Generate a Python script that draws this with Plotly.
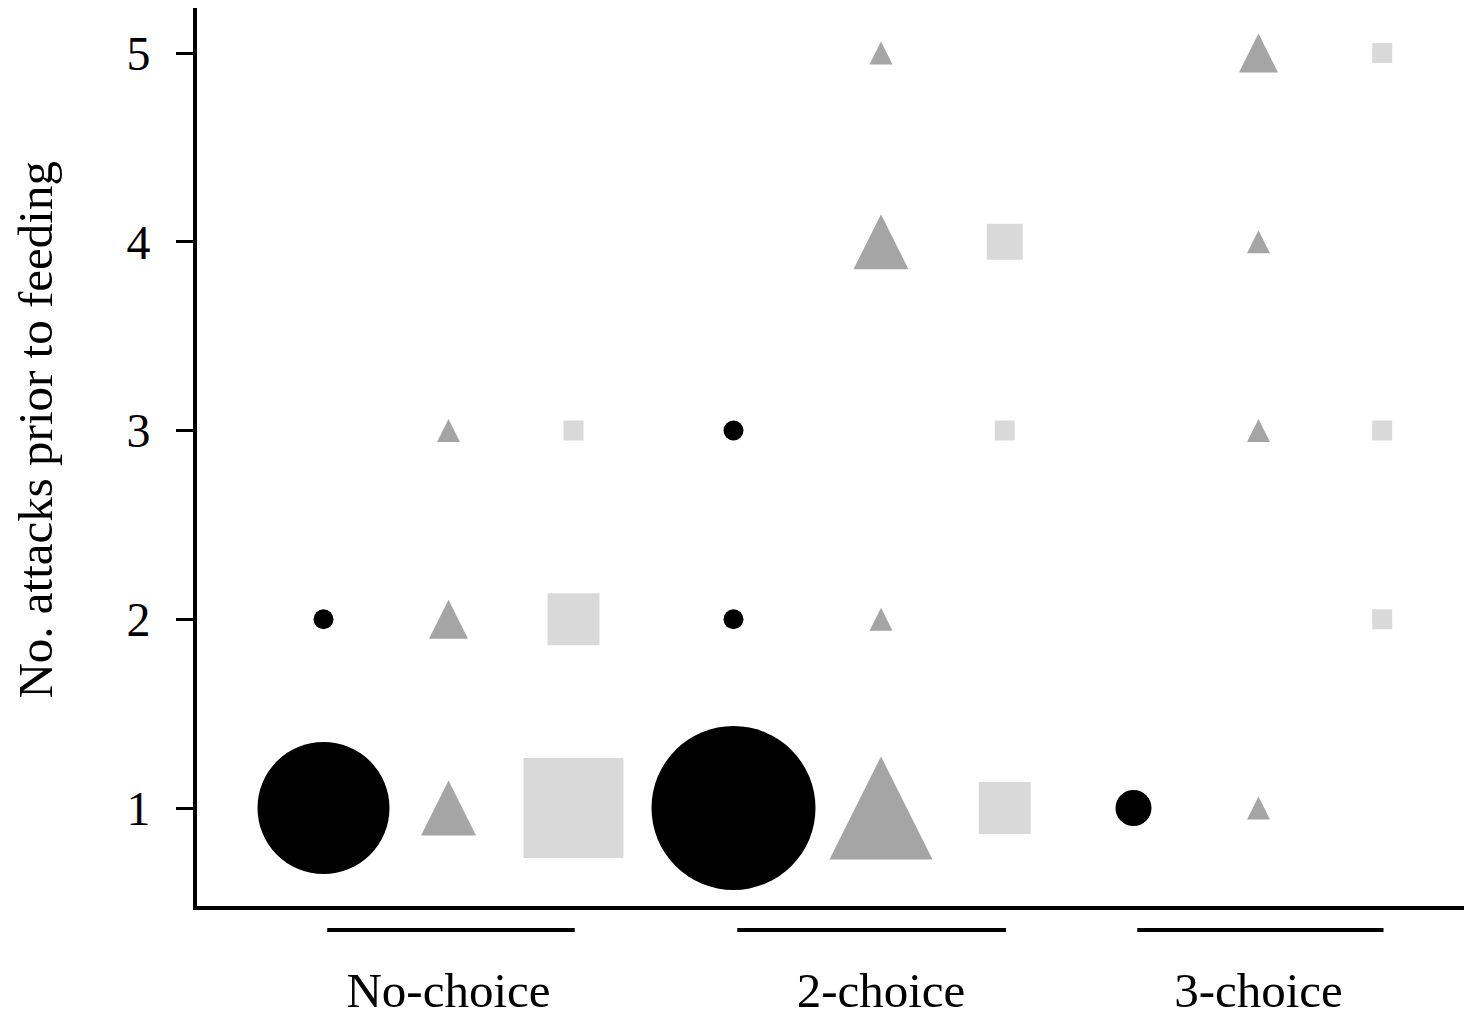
import plotly.graph_objects as go

# ---------------- data ----------------
groups = ["No-choice", "2-choice", "3-choice"]
y_ticks = [1, 2, 3, 4, 5]
y_title = "No. attacks prior to feeding"

# Number of trials at each number of attacks prior to feeding
circle_group = ["No-choice", "No-choice", "2-choice", "2-choice", "2-choice", "3-choice"]
circle_attacks = [1, 2, 1, 2, 3, 1]
circle_count = [8, 1, 10, 1, 1, 2]

triangle_group = ["No-choice", "No-choice", "No-choice",
                  "2-choice", "2-choice", "2-choice", "2-choice",
                  "3-choice", "3-choice", "3-choice", "3-choice"]
triangle_attacks = [1, 2, 3, 1, 2, 4, 5, 1, 3, 4, 5]
triangle_count = [3, 2, 1, 6, 1, 3, 1, 1, 1, 1, 2]

square_group = ["No-choice", "No-choice", "No-choice",
                "2-choice", "2-choice", "2-choice",
                "3-choice", "3-choice", "3-choice"]
square_attacks = [1, 2, 3, 1, 3, 4, 2, 3, 5]
square_count = [6, 3, 1, 3, 1, 2, 1, 1, 1]

# ---------------- layout constants ----------------
SLOT_X = {  # x slot of (circle, triangle, square) within each group
    "No-choice": (1.0, 2.0, 3.0),
    "2-choice": (4.28, 5.46, 6.45),
    "3-choice": (7.48, 8.48, 9.47),
}
FONT = "Liberation Serif, Times New Roman, serif"


def size_of(counts, base):
    return [base + 16 * c for c in counts]


fig = go.Figure()

# circles
fig.add_trace(go.Scatter(
    x=[SLOT_X[g][0] for g in circle_group], y=circle_attacks, mode="markers",
    marker=dict(symbol="circle", color="#000000", size=size_of(circle_count, 4),
                opacity=1, line=dict(width=0)),
    hoverinfo="skip"))

# triangles (isosceles, height = width, centred on the point)
tri_sizes = size_of(triangle_count, 7)
fig.add_trace(go.Scatter(
    x=[SLOT_X[g][1] for g in triangle_group], y=triangle_attacks, mode="markers",
    marker=dict(symbol="arrow-down", angle=180, standoff=[s / 2 for s in tri_sizes],
                color="#a5a5a5", size=tri_sizes, opacity=1, line=dict(width=0)),
    hoverinfo="skip"))

# squares
fig.add_trace(go.Scatter(
    x=[SLOT_X[g][2] for g in square_group], y=square_attacks, mode="markers",
    marker=dict(symbol="square", color="#d9d9d9", size=size_of(square_count, 4),
                opacity=1, line=dict(width=0)),
    hoverinfo="skip"))

# group underline bars
for g in groups:
    fig.add_shape(type="line", xref="x", yref="paper",
                  x0=SLOT_X[g][0] + 0.03, x1=SLOT_X[g][2] + 0.01, y0=-0.0267, y1=-0.0267,
                  line=dict(color="#000000", width=4))

# y-axis title, centred on the tick range
fig.add_annotation(text=y_title, xref="paper", yref="y", x=-0.127,
                   y=(y_ticks[0] + y_ticks[-1]) / 2, xanchor="center", yanchor="middle",
                   textangle=-90, showarrow=False,
                   font=dict(family=FONT, size=49, color="#000000"))

fig.update_layout(
    width=1464, height=1017,
    margin=dict(l=189, r=0, t=0, b=119, autoexpand=False),
    paper_bgcolor="white", plot_bgcolor="white",
    showlegend=False,
    font=dict(family=FONT, size=48, color="#000000"),
    xaxis=dict(
        range=[-0.012, 10.188], showgrid=False, zeroline=False, automargin=False,
        showline=True, linecolor="#000000", linewidth=4,
        tickvals=[SLOT_X[g][1] for g in groups], ticktext=groups,
        ticks="", ticklabelstandoff=38,
        tickfont=dict(family=FONT, size=49, color="#000000"),
    ),
    yaxis=dict(
        range=[0.4808, 5.2384], showgrid=False, zeroline=False, automargin=False,
        showline=True, linecolor="#000000", linewidth=4,
        tickvals=y_ticks, ticks="outside", ticklen=17, tickwidth=2.5,
        tickcolor="#000000", ticklabelstandoff=16,
        tickfont=dict(family=FONT, size=48, color="#000000"),
    ),
)

fig.write_html("out.html")
